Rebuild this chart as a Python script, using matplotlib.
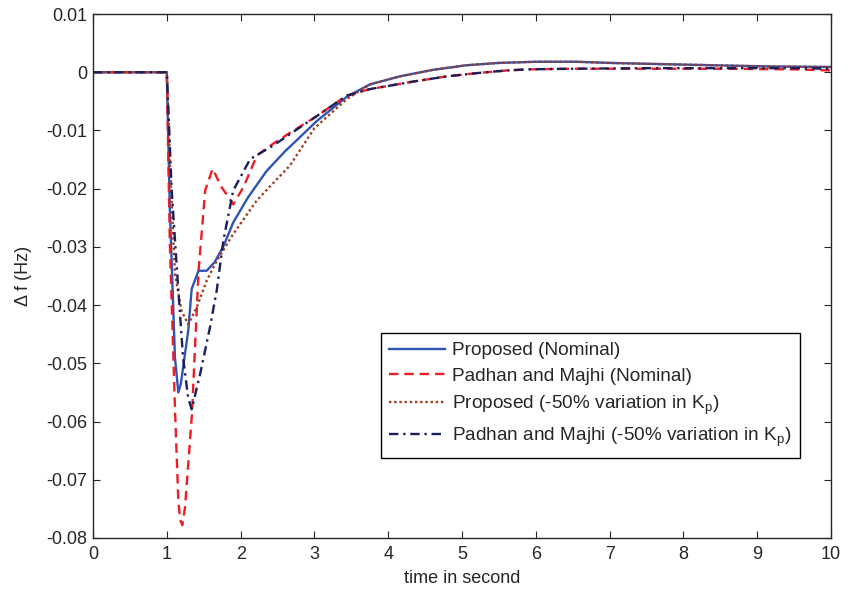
"""Resposta de frequência (Δf) para os quatro controladores."""

import matplotlib.pyplot as plt
from matplotlib.ticker import FixedLocator

plt.rcParams['font.family'] = ['Liberation Sans', 'DejaVu Sans']

# Proposed (Nominal)
t_prop = [0, 1.0, 1.04, 1.11, 1.156, 1.19, 1.29, 1.337, 1.43, 1.54, 1.65, 1.77, 1.90,
          2.1, 2.35, 2.6, 2.8, 3.03, 3.44, 3.75, 4.16, 4.6, 5.06, 5.5, 6.0, 6.55, 7.0,
          7.68, 8.4, 9.13, 10]
df_prop = [0, 0, -0.0232, -0.049, -0.0550, -0.0535, -0.0444, -0.0372, -0.0341, -0.0341,
           -0.0326, -0.0298, -0.0258, -0.0215, -0.0170, -0.0136, -0.0112, -0.0084,
           -0.0042, -0.0021, -0.0007, 0.0004, 0.0012, 0.0016, 0.0018, 0.0018, 0.0016,
           0.0014, 0.0012, 0.0010, 0.0009]

# Padhan and Majhi (Nominal)
t_pm = [0, 1.0, 1.04, 1.11, 1.156, 1.18, 1.21, 1.246, 1.34, 1.43, 1.52, 1.62, 1.74,
        1.90, 2.04, 2.22, 2.45, 2.67, 3.0, 3.44, 3.75, 4.34, 4.8, 5.24, 5.6, 5.9, 6.5,
        7.5, 8.5, 9.5, 10]
df_pm = [0, 0, -0.029, -0.0576, -0.0737, -0.0768, -0.0778, -0.0748, -0.0588, -0.0341,
         -0.0203, -0.0166, -0.0197, -0.0227, -0.0197, -0.0143, -0.0122, -0.0104,
         -0.0078, -0.0040, -0.0029, -0.0016, -0.0007, -0.0001, 0.0003, 0.0005, 0.0006,
         0.0006, 0.0006, 0.0005, 0.0003]

# Proposed (-50% Kp)
t_prop50 = [0, 1.0, 1.05, 1.11, 1.2, 1.29, 1.405, 1.54, 1.676, 1.90, 2.22, 2.67, 3.0,
            3.44, 3.75, 4.16, 4.6, 5.06, 5.5, 6.0, 6.55, 7.0, 7.68, 8.4, 9.13, 10]
df_prop50 = [0, 0, -0.018, -0.0346, -0.041, -0.0433, -0.0404, -0.0358, -0.0324,
             -0.0278, -0.022, -0.0160, -0.0096, -0.0046, -0.0021, -0.0007, 0.0004,
             0.0012, 0.0016, 0.0018, 0.0018, 0.0016, 0.0014, 0.0012, 0.0010, 0.0009]

# Padhan and Majhi (-50% Kp)
t_pm50 = [0, 1.0, 1.066, 1.156, 1.22, 1.29, 1.337, 1.45, 1.585, 1.676, 1.766, 1.90,
          2.13, 2.44, 2.8, 3.0, 3.44, 3.75, 4.34, 4.8, 5.24, 5.6, 5.9, 6.5, 7.5, 8.5,
          9.5, 10]
df_pm50 = [0, 0, -0.0203, -0.0375, -0.049, -0.0560, -0.0579, -0.0519, -0.0438,
           -0.0375, -0.0289, -0.0203, -0.0149, -0.0126, -0.0095, -0.0078, -0.0040,
           -0.0029, -0.0016, -0.0007, -0.0001, 0.0003, 0.0005, 0.0006, 0.0007, 0.0007,
           0.0007, 0.0006]

x_ticks = list(range(0, 11))
y_ticks = [-0.08, -0.07, -0.06, -0.05, -0.04, -0.03, -0.02, -0.01, 0, 0.01]
y_labels = ['-0.08', '-0.07', '-0.06', '-0.05', '-0.04', '-0.03', '-0.02', '-0.01', '0', '0.01']

kp = r'K$_\mathregular{p}$'

fig = plt.figure(figsize=(8.48, 5.94), dpi=100)
ax = fig.add_axes([0.1097, 0.0943, 0.8703, 0.8821])

ax.plot(t_prop, df_prop, color='#2f55b4', lw=1.7, label='Proposed (Nominal)')
ax.plot(t_pm, df_pm, color='#ee1c25', lw=1.7, ls=(0, (4, 2.5)), label='Padhan and Majhi (Nominal)')
ax.plot(t_prop50, df_prop50, color='#a33a1c', lw=1.7, ls=(0, (1, 1.2)),
        label='Proposed (-50% variation in ' + kp + ')')
ax.plot(t_pm50, df_pm50, color='#1b1f5c', lw=1.7, ls=(0, (4, 2, 1, 2)),
        label='Padhan and Majhi (-50% variation in ' + kp + ')')

ax.set_xlim(0, 10)
ax.set_ylim(-0.08, 0.01)
ax.xaxis.set_major_locator(FixedLocator(x_ticks))
ax.set_xticklabels([str(v) for v in x_ticks])
ax.yaxis.set_major_locator(FixedLocator(y_ticks))
ax.set_yticklabels(y_labels)
ax.tick_params(direction='in', top=True, right=True, length=5, width=0.8,
               labelsize=13, labelcolor='#262626', colors='#262626')
ax.tick_params(axis='x', pad=6)
ax.tick_params(axis='y', pad=4)
for s in ax.spines.values():
    s.set_linewidth(1.0)
    s.set_color('#262626')

ax.set_xlabel('time in second', fontsize=13, labelpad=5, color='#262626')
ax.set_ylabel('\u0394 f (Hz)', fontsize=13, labelpad=10, color='#262626')

leg = ax.legend(loc='lower left', bbox_to_anchor=(0.39, 0.153), fontsize=13.7,
                frameon=True, fancybox=False, framealpha=1, edgecolor='black',
                handlelength=2.9, handletextpad=0.37, borderaxespad=0, borderpad=0.45,
                labelspacing=0.45)
leg.get_frame().set_linewidth(1.0)
for txt in leg.get_texts():
    txt.set_color('#262626')

plt.savefig('out.png', dpi=100)
plt.close()
